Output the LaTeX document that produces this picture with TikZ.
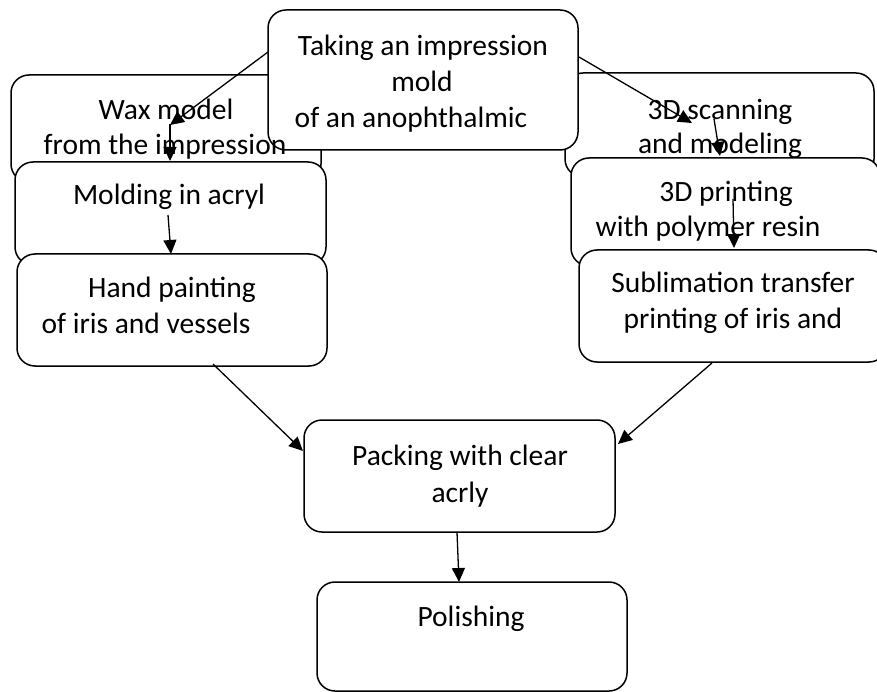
\documentclass[tikz,border=0pt]{standalone}
\usepackage{fontspec}
\setmainfont{Carlito}
\usetikzlibrary{arrows.meta}
\tikzset{
  box/.style={draw, line width=1.5pt, rounded corners=18pt, fill=white, inner sep=0pt, rectangle},
  txt/.style={anchor=base, inner sep=0pt, font=\fontsize{29.5}{36}\selectfont},
  arr/.style={line width=1.3pt, -{Triangle[length=14pt,width=13pt]}}
}
\begin{document}
\begin{tikzpicture}[x=1pt,y=-1pt]
\useasboundingbox (0,0) rectangle (877,692);
% left column
\node[box, minimum width=310pt, minimum height=107pt] (wax) at (166,128.5) {};
\node[box, minimum width=311pt, minimum height=103pt] (mold) at (170.5,213.5) {};
\node[box, minimum width=310pt, minimum height=112pt] (hand) at (172,310) {};
% right column
\node[box, minimum width=309pt, minimum height=104pt] (scan) at (719.5,125) {};
\node[box, minimum width=309pt, minimum height=108pt] (print) at (725.5,212) {};
\node[box, minimum width=308pt, minimum height=112pt] (subl) at (733,306) {};
% top
\node[box, minimum width=310pt, minimum height=140pt] (take) at (423,80) {};
% bottom
\node[box, minimum width=311pt, minimum height=112pt] (pack) at (459.5,476) {};
\node[box, minimum width=310pt, minimum height=109pt] (pol) at (472,636.5) {};

% texts
\node[txt] (t1) at (423,56) {Taking an impression};
\node[txt] (t2) at (422,92) {mold};
\node[txt] (t3) at (411,128) {of an anophthalmic};
\node[txt] (w1) at (166,120) {Wax model};
\node[txt] (w2) at (165,155) {from the impression};
\node[txt] (m1) at (169,205) {Molding in acryl};
\node[txt] (h1) at (172,298) {Hand painting};
\node[txt] (h2) at (146,333) {of iris and vessels};
\node[txt] (s1) at (720,120) {3D scanning};
\node[txt] (s2) at (720,154) {and modeling};
\node[txt] (p1) at (726,202) {3D printing};
\node[txt] (p2) at (708,237) {with polymer resin};
\node[txt] (u1) at (733,293) {Sublimation transfer};
\node[txt] (u2) at (733,328) {printing of iris and};
\node[txt] (k1) at (460,465) {Packing with clear};
\node[txt] (k2) at (460,502) {acrly};
\node[txt] (o1) at (471,626) {Polishing};

% connector ends
\coordinate (a1s) at (268,52);
\coordinate (a1e) at (170,125);
\coordinate (a2s) at (170,124);
\coordinate (a2e) at (170,161);
\coordinate (a3s) at (168,215);
\coordinate (a3e) at (171,254);
\coordinate (a4s) at (579,57);
\coordinate (a4e) at (692,123);
\coordinate (a5s) at (714,119);
\coordinate (a5e) at (720,156);
\coordinate (a6s) at (733,199);
\coordinate (a6e) at (734,248);
\coordinate (a7s) at (213,364);
\coordinate (a7e) at (303,451);
\coordinate (a8s) at (712,363);
\coordinate (a8e) at (618,444);
\coordinate (a9s) at (457,532);
\coordinate (a9e) at (459,582);

\draw[arr] (a1s) -- (a1e);
\draw[arr] (a2s) -- (a2e);
\draw[arr] (a3s) -- (a3e);
\draw[arr] (a4s) -- (a4e);
\draw[arr] (a5s) -- (a5e);
\draw[arr] (a6s) -- (a6e);
\draw[arr] (a7s) -- (a7e);
\draw[arr] (a8s) -- (a8e);
\draw[arr] (a9s) -- (a9e);
\end{tikzpicture}
\end{document}
